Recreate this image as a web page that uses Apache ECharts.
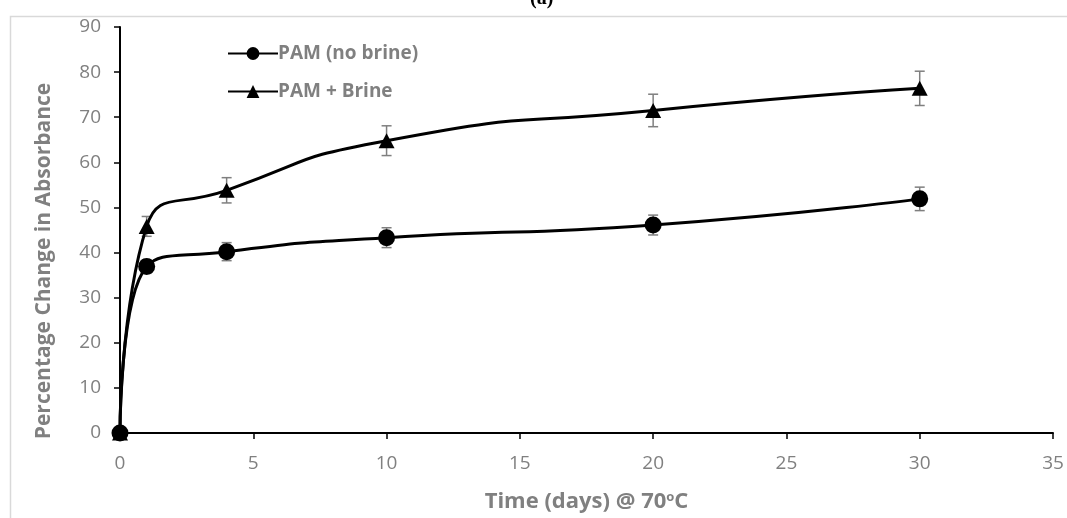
<!DOCTYPE html>
<html>
<head>
<meta charset="utf-8">
<script src="https://cdn.jsdelivr.net/npm/echarts@6/dist/echarts.min.js"></script>
<style>
html,body{margin:0;padding:0;background:#fff;}
#chart{width:1067px;height:518px;}
</style>
</head>
<body>
<div id="chart"></div>
<script>
const days = [0, 1, 4, 10, 20, 30];
const pamNoBrine = [0, 36.9, 40.2, 43.3, 46.1, 51.9];
const pamNoBrineErr = [0, 1.5, 2.0, 2.2, 2.2, 2.6];
const pamBrine = [0, 45.8, 53.8, 64.8, 71.5, 76.4];
const pamBrineErr = [0, 2.2, 2.8, 3.3, 3.6, 3.8];
const xTicks = [0, 5, 10, 15, 20, 25, 30, 35];
const yTicks = [0, 10, 20, 30, 40, 50, 60, 70, 80, 90];
const seriesNames = ['PAM (no brine)', 'PAM + Brine'];

const chart = echarts.init(document.getElementById('chart'));
const gray = '#808080';
const font = '"Open Sans", sans-serif';

function errData(vals, errs) {
  return days.map((d, i) => [d, vals[i], errs[i]]);
}
function errRender(params, api) {
  const x = api.value(0), y = api.value(1), e = api.value(2);
  if (!e) return null;
  const top = api.coord([x, y + e]);
  const bot = api.coord([x, y - e]);
  const cw = 5;
  const style = { stroke: '#7f7f7f', lineWidth: 1.5 };
  return {
    type: 'group',
    children: [
      { type: 'line', shape: { x1: top[0], y1: top[1], x2: bot[0], y2: bot[1] }, style },
      { type: 'line', shape: { x1: top[0] - cw, y1: top[1], x2: top[0] + cw, y2: top[1] }, style },
      { type: 'line', shape: { x1: bot[0] - cw, y1: bot[1], x2: bot[0] + cw, y2: bot[1] }, style }
    ]
  };
}

chart.setOption({
  animation: false,
  backgroundColor: '#fff',
  grid: { left: 120, right: 14, top: 27, bottom: 85, containLabel: false, outerBoundsMode: 'none' },
  legend: {
    orient: 'vertical',
    left: 222,
    top: 39,
    itemWidth: 50,
    itemHeight: 16,
    itemGap: 19,
    data: seriesNames,
    textStyle: { color: gray, fontWeight: 'bold', fontSize: 19, fontFamily: font, padding: [0, 0, 0, -5] }
  },
  xAxis: {
    type: 'value',
    min: 0, max: 35, interval: 5,
    axisLine: { show: true, lineStyle: { color: '#000', width: 2 } },
    axisTick: { show: true, inside: false, length: 6, lineStyle: { color: '#000', width: 1.5 } },
    axisLabel: { color: gray, fontSize: 19, fontFamily: font, margin: 21,
      formatter: v => xTicks.includes(v) ? String(v) : '' },
    splitLine: { show: false },
    name: 'Time (days) @ 70{sup|o}C',
    nameLocation: 'middle',
    nameGap: 58,
    nameTextStyle: {
      color: gray, fontWeight: 'bold', fontSize: 22, fontFamily: font,
      rich: { sup: { fontSize: 13, fontWeight: 'bold', color: gray, fontFamily: font, verticalAlign: 'top', padding: [0, 0, 9, 0] } }
    }
  },
  yAxis: {
    type: 'value',
    min: 0, max: 90, interval: 10,
    axisLine: { show: true, lineStyle: { color: '#000', width: 2 } },
    axisTick: { show: true, inside: false, length: 6, lineStyle: { color: '#000', width: 1.5 } },
    axisLabel: { color: gray, fontSize: 19, fontFamily: font, margin: 19,
      formatter: v => yTicks.includes(v) ? String(v) : '' },
    splitLine: { show: false }
  },
  graphic: [
    { type: 'rect', left: 8, top: 14, shape: { width: 1080, height: 530 },
      style: { fill: 'none', stroke: '#d9d9d9', lineWidth: 1.5 }, z: -1 },
    { type: 'text', left: 530, top: -11,
      style: { text: '(a)', font: 'bold 20px "Liberation Serif", serif', fill: '#000' } },
    { type: 'text', x: 44, y: 261, rotation: Math.PI / 2, originX: 0, originY: 0,
      style: { text: 'Percentage Change in Absorbance', font: 'bold 21px ' + font, fill: gray,
        textAlign: 'center', textVerticalAlign: 'middle' } }
  ],
  series: [
    {
      name: seriesNames[0], type: 'line', smooth: 0.6,
      data: days.map((d, i) => [d, pamNoBrine[i]]),
      symbol: 'circle', symbolSize: 17,
      itemStyle: { color: '#000' },
      lineStyle: { color: '#000', width: 3 }, z: 3, clip: false
    },
    {
      name: seriesNames[1], type: 'line', smooth: 0.6,
      data: days.map((d, i) => [d, pamBrine[i]]),
      symbol: 'triangle', symbolSize: [16, 15],
      itemStyle: { color: '#000' },
      lineStyle: { color: '#000', width: 3 }, z: 3, clip: false
    },
    { type: 'custom', renderItem: errRender, data: errData(pamNoBrine, pamNoBrineErr), z: 2, silent: true },
    { type: 'custom', renderItem: errRender, data: errData(pamBrine, pamBrineErr), z: 2, silent: true }
  ]
});
</script>
</body>
</html>
